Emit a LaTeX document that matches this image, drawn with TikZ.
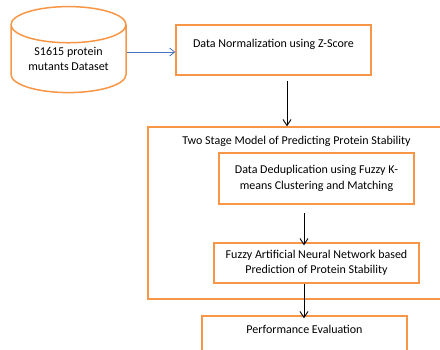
\documentclass[tikz,border=0pt]{standalone}
\usepackage{fontspec}
\setmainfont{Carlito}
\usetikzlibrary{shapes.geometric,arrows.meta}
\definecolor{boxorange}{RGB}{247,150,70}
\definecolor{linkblue}{RGB}{68,114,196}
\tikzset{
  stagebox/.style={draw=boxorange, line width=1.5pt, rectangle, align=center, inner sep=0pt},
  flow/.style={->, >={Straight Barb[length=6pt,width=8pt]}, line width=0.9pt},
}
\begin{document}
\begin{tikzpicture}[x=1pt,y=-1pt,font=\fontsize{12}{15.5}\selectfont]
    \useasboundingbox (0,0) rectangle (440,349);
    \clip (0,0) rectangle (440,349);

    % Input data
    \node[draw=boxorange, line width=1.5pt, cylinder, shape border rotate=90, aspect=0.45,
          minimum width=115pt, minimum height=86pt, align=center, inner sep=0pt]
          (dataset) at (68.5,59) {S1615 protein\\mutants Dataset};
    \node[stagebox, minimum width=195pt, text height=22pt, text depth=28pt]
          (norm) at (273.5,50) {Data Normalization using Z-Score};

    % Two stage model
    \node[stagebox, minimum width=297pt, text height=17pt, text depth=155pt]
          (model) at (296.5,213) {Two Stage Model of Predicting Protein Stability};
    \node[stagebox, minimum width=195pt, minimum height=51pt]
          (dedup) at (316.5,178.5) {Data Deduplication using Fuzzy K-\\means Clustering and Matching};
    \node[stagebox, minimum width=205pt, minimum height=40pt]
          (fann) at (316.5,263) {Fuzzy Artificial Neural Network based\\Prediction of Protein Stability};

    % Evaluation
    \node[stagebox, minimum width=205pt, text height=17pt, text depth=27pt]
          (eval) at (304.5,338) {Performance Evaluation};

    \draw[->, >={Straight Barb[length=5pt,width=8pt]}, draw=linkblue, line width=0.8pt]
          ([yshift=-2pt]norm.west -| dataset.east) -- ([yshift=-2pt]norm.west);
    \draw[flow] ([xshift=13.5pt,yshift=-5pt]norm.south) -- ([xshift=13.5pt]norm.south |- model.north);
    \draw[flow] ([xshift=-12.5pt,yshift=-8pt]dedup.south) -- ([xshift=-12.5pt,yshift=-3pt]dedup.south |- fann.north);
    \draw[flow] ([xshift=-12.5pt]fann.south) -- ([xshift=-12.5pt,yshift=-3pt]fann.south |- eval.north);
\end{tikzpicture}
\end{document}
